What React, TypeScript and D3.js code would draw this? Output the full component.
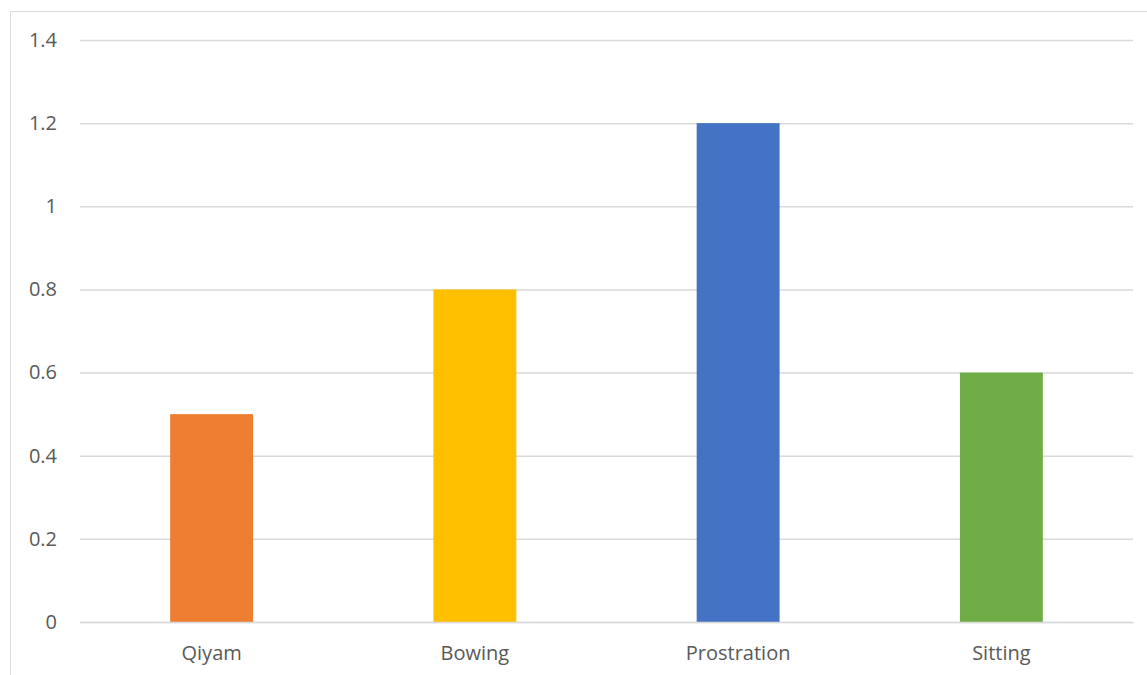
import React, { useRef, useEffect } from 'react';
import { select, scaleLinear, scaleBand, axisLeft, axisBottom } from 'd3';

const categories = ['Qiyam', 'Bowing', 'Prostration', 'Sitting'];
const values = [0.5, 0.8, 1.2, 0.6];
const barColors = ['#ED7D31', '#FFC000', '#4472C4', '#70AD47'];
const yTicks = [0, 0.2, 0.4, 0.6, 0.8, 1, 1.2, 1.4];

const width = 1147;
const height = 675;
const plot = { left: 80, right: 1133, top: 40, bottom: 622 };
const font = '"Open Sans", sans-serif';

const App = () => {
  const svgRef = useRef<SVGSVGElement>(null);

  useEffect(() => {
    const svg = select(svgRef.current);
    svg.selectAll('*').remove();

    // chart area border (runs off the right and bottom of the picture)
    svg.append('rect')
      .attr('x', 10.5)
      .attr('y', 11.5)
      .attr('width', 1200)
      .attr('height', 700)
      .attr('fill', 'white')
      .attr('stroke', '#d9d9d9')
      .attr('stroke-width', 1);

    const x = scaleBand()
      .domain(categories)
      .range([plot.left, plot.right])
      .paddingInner(0.685)
      .paddingOuter(0.3425);

    const y = scaleLinear()
      .domain([0, 1.4])
      .range([plot.bottom, plot.top]);

    const yAxis = svg.append('g')
      .attr('transform', `translate(${plot.left},0)`)
      .call(axisLeft(y).tickValues(yTicks).tickSize(-(plot.right - plot.left)).tickPadding(23).tickFormat(d => String(d)));
    yAxis.select('.domain').remove();
    yAxis.selectAll('.tick line').attr('stroke', '#d9d9d9').attr('stroke-width', 1.5);
    yAxis.selectAll('.tick text')
      .attr('fill', '#595959')
      .style('font-family', font)
      .style('font-size', '20px');

    svg.selectAll('.bar')
      .data(values)
      .join('rect')
      .attr('class', 'bar')
      .attr('x', (d, i) => x(categories[i]) as number)
      .attr('y', d => y(d))
      .attr('width', x.bandwidth())
      .attr('height', d => y(0) - y(d))
      .attr('fill', (d, i) => barColors[i]);

    const xAxis = svg.append('g')
      .attr('transform', `translate(0,${plot.bottom})`)
      .call(axisBottom(x).tickSize(0).tickPadding(24));
    xAxis.select('.domain').attr('stroke', '#d9d9d9').attr('stroke-width', 1.5);
    xAxis.selectAll('.tick text')
      .attr('fill', '#595959')
      .style('font-family', font)
      .style('font-size', '20px');
  }, []);

  return (
    <svg ref={svgRef} width={width} height={height} style={{ position: 'absolute', left: 0, top: 0 }} />
  );
};

export default App;
